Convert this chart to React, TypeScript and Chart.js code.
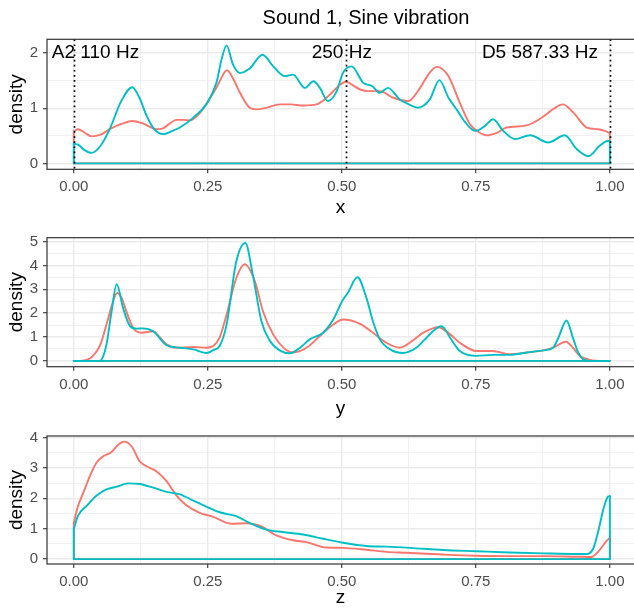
import React, { useEffect, useRef } from 'react';
import { Chart, registerables } from 'chart.js';

Chart.register(...registerables);

// ---------- data ----------
const plotTitle = 'Sound 1, Sine vibration';
const groupColors = ['#F8766D', '#00BFC4'];

const xTickMajor = [0, 0.25, 0.5, 0.75, 1];
const xTickMinor = [0.125, 0.375, 0.625, 0.875];

// panel 1 : x
const xRed: [number, number][] = [
  [0, 0.58], [0.008, 0.62], [0.02, 0.56], [0.033, 0.49], [0.05, 0.52], [0.067, 0.62], [0.09, 0.72],
  [0.109, 0.77], [0.13, 0.72], [0.154, 0.62], [0.165, 0.63], [0.192, 0.79], [0.205, 0.79], [0.217, 0.78],
  [0.232, 0.88], [0.247, 1.07], [0.266, 1.37], [0.286, 1.69], [0.298, 1.52], [0.31, 1.28], [0.328, 1.01],
  [0.341, 0.98], [0.36, 1.01], [0.384, 1.07], [0.405, 1.07], [0.428, 1.05], [0.453, 1.07], [0.478, 1.25],
  [0.497, 1.43], [0.508, 1.48], [0.52, 1.42], [0.534, 1.34], [0.55, 1.31], [0.571, 1.31], [0.596, 1.19],
  [0.624, 1.13], [0.646, 1.37], [0.662, 1.62], [0.677, 1.75], [0.699, 1.58], [0.72, 1.1], [0.739, 0.71],
  [0.755, 0.57], [0.77, 0.51], [0.79, 0.56], [0.807, 0.65], [0.845, 0.69], [0.876, 0.85], [0.895, 0.99],
  [0.912, 1.07], [0.932, 0.92], [0.957, 0.65], [0.978, 0.62], [0.99, 0.59], [1, 0.55],
];
const xTeal: [number, number][] = [
  [0, 0.36], [0.008, 0.34], [0.02, 0.24], [0.033, 0.19], [0.05, 0.32], [0.067, 0.62], [0.088, 1.12],
  [0.109, 1.38], [0.122, 1.2], [0.136, 0.86], [0.15, 0.62], [0.167, 0.53], [0.182, 0.58], [0.198, 0.65],
  [0.223, 0.83], [0.247, 1.07], [0.266, 1.46], [0.276, 1.9], [0.285, 2.14], [0.297, 1.79], [0.31, 1.64],
  [0.328, 1.72], [0.352, 1.97], [0.372, 1.76], [0.394, 1.58], [0.409, 1.61], [0.431, 1.37], [0.447, 1.49],
  [0.459, 1.37], [0.474, 1.13], [0.49, 1.3], [0.502, 1.64], [0.518, 1.76], [0.54, 1.46], [0.557, 1.4],
  [0.571, 1.28], [0.586, 1.37], [0.608, 1.16], [0.625, 1.07], [0.642, 1.01], [0.664, 1.16], [0.682, 1.51],
  [0.699, 1.19], [0.714, 0.98], [0.733, 0.71], [0.749, 0.59], [0.767, 0.68], [0.782, 0.8], [0.801, 0.59],
  [0.823, 0.44], [0.851, 0.51], [0.885, 0.38], [0.916, 0.51], [0.938, 0.26], [0.96, 0.13], [0.981, 0.32],
  [0.997, 0.41], [1, 0.4],
];

// panel 2 : y
const yRed: [number, number][] = [
  [0, 0], [0.017, 0.01], [0.03, 0.1], [0.041, 0.35], [0.05, 0.7], [0.061, 1.52], [0.072, 2.4], [0.081, 2.84],
  [0.09, 2.6], [0.098, 2.07], [0.111, 1.38], [0.126, 1.18], [0.148, 1.24], [0.16, 1.0], [0.173, 0.69],
  [0.192, 0.55], [0.223, 0.58], [0.248, 0.55], [0.26, 0.62], [0.272, 0.97], [0.285, 1.94], [0.303, 3.46],
  [0.319, 4.05], [0.338, 3.32], [0.353, 2.07], [0.372, 1.11], [0.397, 0.44], [0.409, 0.35], [0.434, 0.55],
  [0.459, 1.04], [0.484, 1.52], [0.502, 1.73], [0.534, 1.55], [0.558, 1.18], [0.583, 0.76], [0.608, 0.55],
  [0.633, 0.86], [0.652, 1.18], [0.68, 1.41], [0.702, 1.11], [0.72, 0.76], [0.751, 0.41], [0.782, 0.41],
  [0.813, 0.28], [0.845, 0.35], [0.876, 0.44], [0.894, 0.55], [0.918, 0.8], [0.931, 0.55], [0.944, 0.21],
  [0.963, 0.04], [0.988, 0], [1, 0],
];
const yTeal: [number, number][] = [
  [0, 0], [0.048, 0], [0.055, 0.2], [0.061, 0.69], [0.07, 2.0], [0.08, 3.21], [0.092, 2.21], [0.105, 1.45],
  [0.117, 1.35], [0.129, 1.36], [0.148, 1.24], [0.173, 0.66], [0.198, 0.55], [0.223, 0.48], [0.248, 0.33],
  [0.26, 0.45], [0.272, 0.62], [0.285, 1.52], [0.303, 4.15], [0.32, 4.94], [0.334, 3.6], [0.35, 1.66],
  [0.366, 0.83], [0.384, 0.44], [0.403, 0.32], [0.422, 0.55], [0.44, 0.9], [0.465, 1.18], [0.484, 1.73],
  [0.502, 2.56], [0.511, 2.84], [0.529, 3.5], [0.546, 2.63], [0.558, 1.66], [0.571, 0.9], [0.59, 0.48],
  [0.614, 0.33], [0.639, 0.55], [0.652, 0.83], [0.686, 1.45], [0.702, 0.97], [0.72, 0.41], [0.751, 0.21],
  [0.782, 0.25], [0.813, 0.25], [0.845, 0.35], [0.876, 0.44], [0.894, 0.55], [0.904, 0.97], [0.919, 1.69],
  [0.931, 0.97], [0.941, 0.35], [0.95, 0.07], [0.963, 0], [1, 0],
];

// panel 3 : z
const zRed: [number, number][] = [
  [0, 1.2], [0.008, 1.75], [0.018, 2.19], [0.03, 2.73], [0.042, 3.16], [0.055, 3.38], [0.07, 3.51],
  [0.083, 3.76], [0.094, 3.86], [0.108, 3.7], [0.123, 3.21], [0.136, 3.05], [0.154, 2.89], [0.173, 2.56],
  [0.192, 2.08], [0.21, 1.77], [0.235, 1.52], [0.26, 1.39], [0.294, 1.16], [0.322, 1.18], [0.347, 1.1],
  [0.378, 0.78], [0.409, 0.62], [0.434, 0.56], [0.471, 0.38], [0.502, 0.37], [0.546, 0.31], [0.583, 0.24],
  [0.62, 0.21], [0.689, 0.15], [0.751, 0.11], [0.813, 0.1], [0.876, 0.1], [0.938, 0.08], [0.965, 0.07],
  [0.978, 0.24], [0.99, 0.51], [0.998, 0.67], [1, 0.68],
];
const zTeal: [number, number][] = [
  [0, 1.0], [0.008, 1.43], [0.024, 1.75], [0.042, 2.08], [0.061, 2.29], [0.08, 2.38], [0.101, 2.49],
  [0.123, 2.47], [0.148, 2.35], [0.173, 2.21], [0.198, 2.13], [0.223, 1.92], [0.248, 1.72], [0.272, 1.54],
  [0.303, 1.41], [0.328, 1.19], [0.359, 0.97], [0.39, 0.89], [0.428, 0.81], [0.465, 0.67], [0.502, 0.54],
  [0.546, 0.43], [0.583, 0.41], [0.627, 0.37], [0.689, 0.3], [0.751, 0.26], [0.813, 0.22], [0.876, 0.19],
  [0.938, 0.17], [0.957, 0.17], [0.969, 0.35], [0.978, 0.89], [0.988, 1.65], [0.997, 2.06], [1, 2.07],
];

const yMajor1 = [0, 1, 2];
const yMinor1 = [0.5, 1.5];
const yMajor2 = [0, 1, 2, 3, 4, 5];
const yMinor2 = [0.5, 1.5, 2.5, 3.5, 4.5];
const yMajor3 = [0, 1, 2, 3, 4];
const yMinor3 = [0.5, 1.5, 2.5, 3.5];

// reference lines in panel 1 (note frequencies)
const noteLineX = [0, 0.507, 1];
const noteLabels = ['A2 110 Hz', '250 Hz', 'D5 587.33 Hz'];
const noteLabelX = [-0.041, 0.5, 0.978];
const noteLabelAlign = ['left', 'center', 'right'];
const noteLabelY = 2;

// ---------- styling ----------
const FONT = "'Liberation Sans', Arial, Helvetica, sans-serif";

type Spec = {
  varName: string;
  red: [number, number][];
  teal: [number, number][];
  yMin: number;
  yMax: number;
  yMajor: number[];
  yMinor: number[];
  h: number;
  padTop: number;
  xAxisH: number;
  xTitlePad: number;
  title?: boolean;
  notes?: boolean;
};

const specs: Spec[] = [
  { varName: 'x', red: xRed, teal: xTeal, yMin: -0.107, yMax: 2.25, yMajor: yMajor1, yMinor: yMinor1, h: 222, padTop: 39.3, xAxisH: 52.7, xTitlePad: 2.5, title: true, notes: true },
  { varName: 'y', red: yRed, teal: yTeal, yMin: -0.245, yMax: 5.16, yMajor: yMajor2, yMinor: yMinor2, h: 200, padTop: 15.7, xAxisH: 55.3, xTitlePad: 2 },
  { varName: 'z', red: zRed, teal: zTeal, yMin: -0.16, yMax: 4.045, yMajor: yMajor3, yMinor: yMinor3, h: 188, padTop: 12.3, xAxisH: 46, xTitlePad: 0.5 },
];

const decorPlugin = {
  id: 'decor',
  afterDatasetsDraw(chart: any, _args: any, opts: any) {
    const { ctx, chartArea: a, scales } = chart;
    if (!opts.notes) return;
    ctx.save();
    ctx.beginPath();
    ctx.rect(a.left, a.top, a.right - a.left, a.bottom - a.top);
    ctx.clip();
    ctx.strokeStyle = '#000000';
    ctx.lineWidth = 1.7;
    ctx.setLineDash([1.7, 3.4]);
    for (const v of noteLineX) {
      const px = Math.round(scales.x.getPixelForValue(v)) + 0.5;
      ctx.beginPath();
      ctx.moveTo(px, a.top);
      ctx.lineTo(px, a.bottom);
      ctx.stroke();
    }
    ctx.setLineDash([]);
    ctx.fillStyle = '#000000';
    ctx.font = `19px ${FONT}`;
    ctx.textBaseline = 'middle';
    noteLabels.forEach((t, i) => {
      ctx.textAlign = noteLabelAlign[i] as CanvasTextAlign;
      ctx.fillText(t, scales.x.getPixelForValue(noteLabelX[i]), scales.y.getPixelForValue(noteLabelY));
    });
    ctx.restore();
  },
  afterDraw(chart: any, _args: any, opts: any) {
    const { ctx, chartArea: a } = chart;
    ctx.save();
    ctx.strokeStyle = '#333333';
    ctx.lineWidth = 1.2;
    ctx.strokeRect(a.left, a.top, a.right - a.left + 20, a.bottom - a.top);
    if (opts.title) {
      ctx.fillStyle = '#000000';
      ctx.font = `20px ${FONT}`;
      ctx.textAlign = 'center';
      ctx.textBaseline = 'middle';
      ctx.fillText(plotTitle, 366, 18);
    }
    ctx.restore();
  },
};

function toPts(arr: [number, number][]) {
  return arr.map(([x, y]) => ({ x, y }));
}
function outline(arr: [number, number][]) {
  const first = arr[0];
  const last = arr[arr.length - 1];
  return [
    { x: first[0], y: first[1] },
    { x: first[0], y: 0 },
    { x: last[0], y: 0 },
    { x: last[0], y: last[1] },
  ];
}
function ds(data: any[], color: string, smooth: boolean) {
  return {
    data,
    borderColor: color,
    backgroundColor: color,
    borderWidth: 1.9,
    pointRadius: 0,
    pointHoverRadius: 0,
    fill: false,
    tension: 0,
    cubicInterpolationMode: smooth ? 'monotone' : 'default',
    borderJoinStyle: 'round',
    borderCapStyle: 'round',
  };
}

function buildConfig(s: Spec): any {
  const [RED, TEAL] = groupColors;
  const xAll = [...xTickMajor, ...xTickMinor].sort((a, b) => a - b);
  const yAll = [...s.yMajor, ...s.yMinor].filter((v) => v <= s.yMax).sort((a, b) => a - b);
  const gridOpts = (major: number[]) => ({
    color: '#EBEBEB',
    lineWidth: (c: any) => (c.tick && major.includes(c.tick.value) ? 1.4 : 0.7),
    tickColor: (c: any) => (c.tick && major.includes(c.tick.value) ? '#333333' : 'rgba(0,0,0,0)'),
    tickLength: 4,
    tickWidth: 1.1,
    drawTicks: true,
  });
  return {
    type: 'line',
    data: {
      datasets: [
        ds(outline(s.teal), TEAL, false),
        ds(toPts(s.teal), TEAL, true),
        ds(outline(s.red), RED, false),
        ds(toPts(s.red), RED, true),
      ],
    },
    options: {
      responsive: false,
      animation: false,
      devicePixelRatio: 1,
      events: [],
      parsing: true,
      layout: { padding: { top: s.padTop, left: 0, right: 0, bottom: 0 } },
      plugins: {
        legend: { display: false },
        tooltip: { enabled: false },
        title: { display: false },
        decor: { title: !!s.title, notes: !!s.notes },
      },
      scales: {
        x: {
          type: 'linear',
          min: -0.05,
          max: 1.045,
          afterBuildTicks: (sc: any) => {
            sc.ticks = xAll.map((v) => ({ value: v }));
          },
          afterFit: (sc: any) => {
            sc.height = s.xAxisH;
          },
          ticks: {
            callback: (v: number) => (xTickMajor.includes(v) ? v.toFixed(2) : ''),
            font: { family: FONT, size: 15 },
            color: '#4D4D4D',
            padding: 5,
            autoSkip: false,
            maxRotation: 0,
          },
          grid: gridOpts(xTickMajor),
          border: { display: false },
          title: {
            display: true,
            text: s.varName,
            font: { family: FONT, size: 19 },
            color: '#000000',
            padding: { top: 0, bottom: s.xTitlePad },
          },
        },
        y: {
          type: 'linear',
          min: s.yMin,
          max: s.yMax,
          afterBuildTicks: (sc: any) => {
            sc.ticks = yAll.map((v) => ({ value: v }));
          },
          afterFit: (sc: any) => {
            sc.width = 47;
          },
          ticks: {
            callback: (v: number) => (s.yMajor.includes(v) ? String(v) : ''),
            font: { family: FONT, size: 15 },
            color: '#4D4D4D',
            padding: 5,
            autoSkip: false,
          },
          grid: gridOpts(s.yMajor),
          border: { display: false },
          title: {
            display: true,
            text: 'density',
            font: { family: FONT, size: 19 },
            color: '#000000',
            padding: { top: 5, bottom: 0 },
          },
        },
      },
    },
    plugins: [decorPlugin],
  };
}

function Panel({ spec }: { spec: Spec }) {
  const ref = useRef<HTMLCanvasElement>(null);
  useEffect(() => {
    const chart = new Chart(ref.current as HTMLCanvasElement, buildConfig(spec));
    return () => chart.destroy();
  }, [spec]);
  return (
    <canvas
      ref={ref}
      width={634}
      height={spec.h}
      style={{ display: 'block', width: 634, height: spec.h }}
    />
  );
}

export default function App() {
  return (
    <div style={{ position: 'absolute', left: 0, top: 0, width: 634, height: 610, background: '#FFFFFF', overflow: 'hidden' }}>
      {specs.map((s) => (
        <Panel key={s.varName} spec={s} />
      ))}
    </div>
  );
}
